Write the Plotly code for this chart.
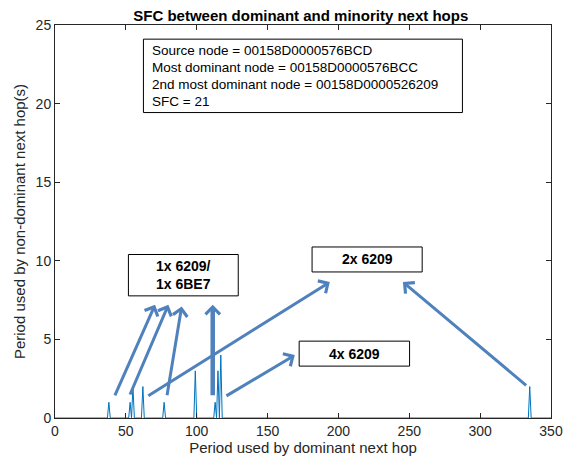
import plotly.graph_objects as go

# spikes: period of dominant hop -> period of non-dominant hop(s)
spike_periods = [38, 53, 55, 62, 77, 99, 113, 115, 117, 335]
spike_counts = [1, 1, 2, 2, 1, 3, 1, 3, 4, 2]
x_max = 350

x_ticks = [0, 50, 100, 150, 200, 250, 300, 350]
y_ticks = [0, 5, 10, 15, 20, 25]

info_lines = [
    "Source node = 00158D0000576BCD",
    "Most dominant node = 00158D0000576BCC",
    "2nd most dominant node = 00158D0000526209",
    "SFC = 21",
]

# arrows: (tail x, tail y, head x, head y, width)
arrows = [
    (41.8, 1.35, 70.6, 7.2, 3),
    (52.5, 1.4, 80.0, 7.2, 3),
    (78.9, 1.35, 89.4, 7.1, 3),
    (111.3, 1.35, 111.3, 7.2, 4.5),
    (64.8, 1.35, 193.9, 8.65, 3),
    (119.9, 1.35, 169.2, 4.0, 3),
    (333.5, 2.0, 245.5, 8.65, 3),
]

# boxed labels: (text, x0, x1, y0, y1)
boxes = [
    ("1x 6209/<br>1x 6BE7", 51.8, 129.3, 7.77, 10.4),
    ("2x 6209", 181.4, 259.1, 9.29, 10.88),
    ("4x 6209", 172.3, 250.2, 3.3, 4.89),
]

counts = dict(zip(spike_periods, spike_counts))
xs = list(range(0, x_max + 1))
ys = [counts.get(v, 0) for v in xs]

FONT = "Liberation Sans, Arial, Helvetica, sans-serif"
AX = "#262626"
ARROW = "#4F81BD"

fig = go.Figure()
fig.add_trace(go.Scatter(x=xs, y=ys, mode="lines",
                         line=dict(color="#0072BD", width=1), showlegend=False))

# info box
fig.add_shape(type="rect", x0=62.4, x1=287.5, y0=19.43, y1=24.1,
              line=dict(color="black", width=1), fillcolor="white")
for i, line in enumerate(info_lines):
    fig.add_annotation(x=67.2, y=23.4 - i * 1.09, xanchor="left", yanchor="middle",
                       text=line, showarrow=False,
                       font=dict(family=FONT, size=13.5, color="black"))

for txt, x0, x1, y0, y1 in boxes:
    fig.add_shape(type="rect", x0=x0, x1=x1, y0=y0, y1=y1,
                  line=dict(color="black", width=1), fillcolor="white")
    fig.add_annotation(x=(x0 + x1) / 2, y=(y0 + y1) / 2, text="<b>" + txt + "</b>",
                       showarrow=False, font=dict(family=FONT, size=14, color="black"))

for tx, ty, hx, hy, w in arrows:
    fig.add_annotation(x=hx, y=hy, ax=tx, ay=ty, xref="x", yref="y",
                       axref="x", ayref="y", text="", showarrow=True,
                       arrowhead=4, arrowsize=2.8 / w, arrowwidth=w,
                       arrowcolor=ARROW, standoff=0, startstandoff=0)

axis_common = dict(showline=True, linecolor=AX, linewidth=1, mirror="ticks",
                   ticks="inside", ticklen=5, tickcolor=AX, showgrid=False,
                   zeroline=False, automargin=False,
                   tickfont=dict(family=FONT, size=14, color=AX))

fig.update_xaxes(range=[0, x_max], tickvals=x_ticks,
                 title=dict(text="Period used by dominant next hop", standoff=2,
                            font=dict(family=FONT, size=15, color=AX)),
                 **axis_common)
fig.update_yaxes(range=[0, 25], tickvals=y_ticks,
                 title=dict(text="Period used by non-dominant next hop(s)", standoff=6,
                            font=dict(family=FONT, size=15, color=AX)),
                 **axis_common)

# page body has an 8px margin, so the figure is shrunk by that much
fig.update_layout(
    width=563, height=449,
    margin=dict(l=47, r=20, t=17, b=39),
    plot_bgcolor="white", paper_bgcolor="white",
    title=dict(text="<b>SFC between dominant and minority next hops</b>",
               x=0.52, xanchor="center", y=0.982, yanchor="middle",
               font=dict(family=FONT, size=15, color="black")),
)

fig.write_html("out.html")
